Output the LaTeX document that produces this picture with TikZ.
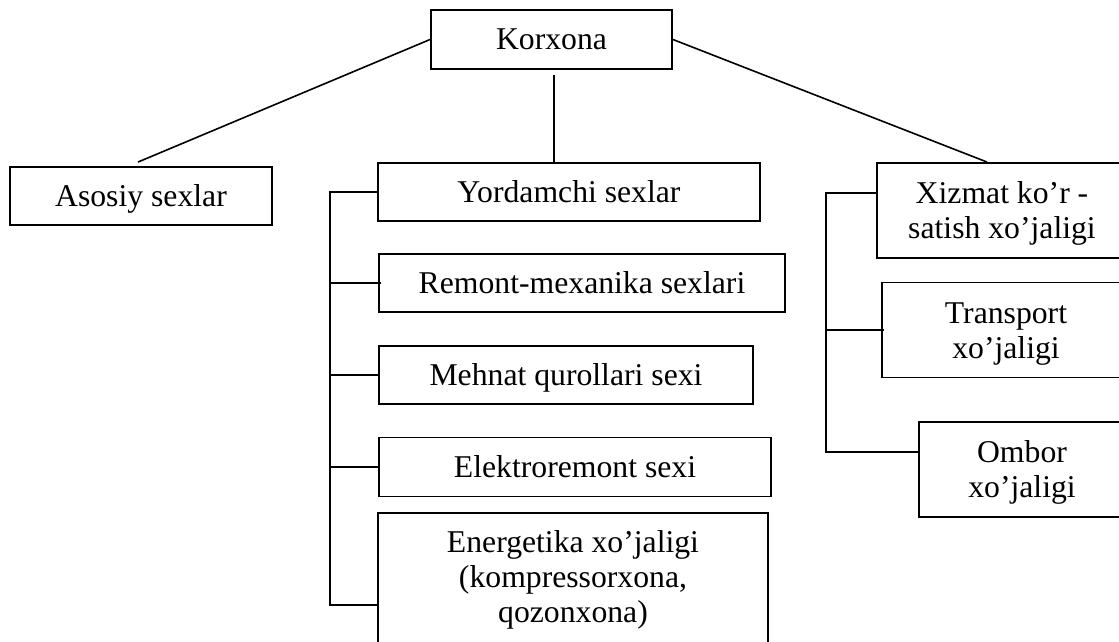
\documentclass[tikz,border=0pt]{standalone}
\usepackage{fontspec}
\setmainfont{Liberation Serif}
\usetikzlibrary{calc}
\begin{document}
\begin{tikzpicture}[x=1pt,y=-1pt,
  unit/.style={draw=black, line width=1.9pt, inner sep=0pt, align=center,
    font=\fontsize{31.7pt}{35pt}\selectfont, text height=22pt, text depth=1pt},
  twoline/.style={text height=57pt},
  threeline/.style={text height=92pt, text depth=6pt},
  link/.style={draw=black, line width=1.6pt}]
\useasboundingbox (0,0) rectangle (1119,642);
\clip (0,0) rectangle (1119,642);

% top level
\node[unit, minimum width=241pt, minimum height=59pt] (korxona) at (551.5,39.5) {Korxona};
\node[unit, minimum width=262pt, minimum height=58pt] (asosiy) at (141,196) {Asosiy sexlar};

% auxiliary shops
\node[unit, minimum width=382pt, minimum height=58pt] (yord) at (569,192) {Yordamchi sexlar};
\node[unit, minimum width=406pt, minimum height=58pt] (remont) at (582,283) {Remont-mexanika sexlari};
\node[unit, minimum width=374pt, minimum height=58pt] (mehnat) at (566,375) {Mehnat qurollari sexi};
\node[unit, minimum width=392pt, minimum height=59pt] (elektro) at (575,467) {Elektroremont sexi};
\node[unit, threeline, minimum width=390pt, minimum height=132pt] (energ) at (573,579)
  {Energetika xo’jaligi\\(kompressorxona,\\qozonxona)};

% service units
\node[unit, twoline, minimum width=250pt, minimum height=95pt] (xizmat) at (1002,210.5) {Xizmat ko’r -\\satish xo’jaligi};
\node[unit, twoline, minimum width=248pt, minimum height=95pt] (transport) at (1006,330) {Transport\\xo’jaligi};
\node[unit, twoline, minimum width=206pt, minimum height=95pt] (ombor) at (1022,469.5) {Ombor\\xo’jaligi};

% links from the enterprise
\draw[link] (korxona.west) -- ([shift={(-3pt,4pt)}]asosiy.north);
\draw[link] (korxona.east) -- ([xshift=-15pt]xizmat.north);
\coordinate (vtop) at ($(korxona.south)+(2.5,5)$);
\draw[link] (vtop) -- (vtop |- yord.north);

% left bus
\coordinate (lbtop) at (330,192);
\coordinate (lbbot) at (330,605);
\draw[link] (yord.west) -- (lbtop) -- (lbbot) -- (lbbot -| energ.west);
\draw[link] (lbtop |- remont.west) -- ([xshift=3pt]remont.west);
\draw[link] (lbtop |- mehnat.west) -- (mehnat.west);
\draw[link] (lbtop |- elektro.west) -- (elektro.west);

% right bus
\coordinate (rbtop) at (826,193);
\coordinate (rbbot) at (826,452);
\draw[link] (rbtop -| xizmat.west) -- (rbtop) -- (rbbot) -- (rbbot -| ombor.west);
\draw[link] (rbtop |- transport.west) -- ([xshift=3pt]transport.west);
\end{tikzpicture}
\end{document}
